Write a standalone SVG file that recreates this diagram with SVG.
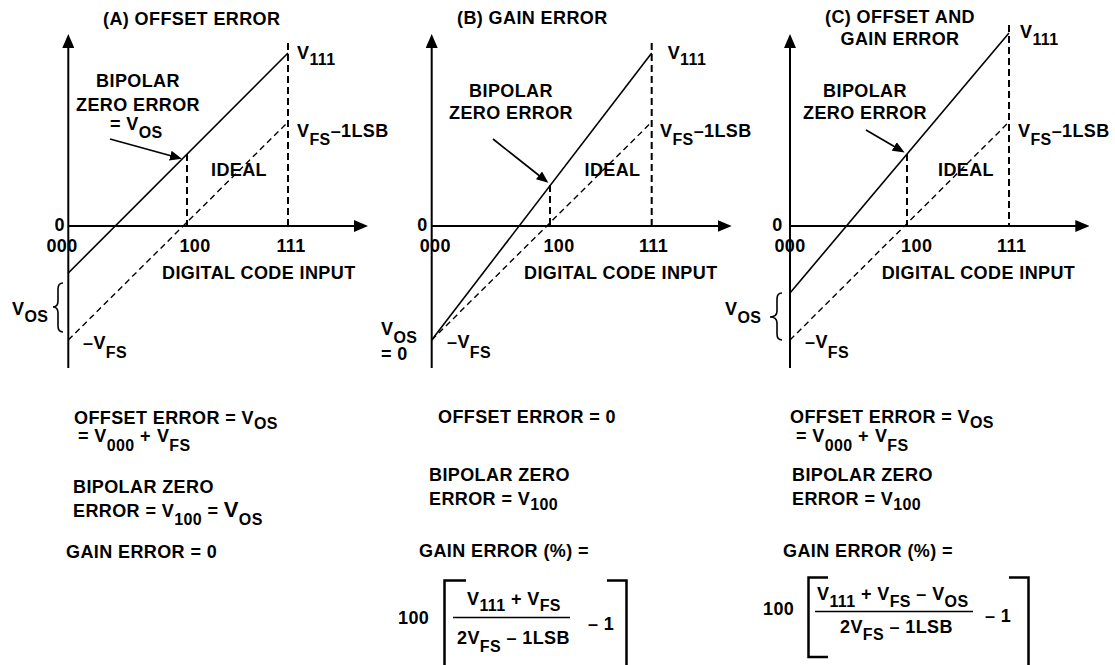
<svg xmlns="http://www.w3.org/2000/svg" width="1115" height="665" viewBox="0 0 1115 665">
<defs>
<style>
text{font-family:"Liberation Sans",Arial,Helvetica,sans-serif;font-weight:bold;font-size:18px;fill:#000;letter-spacing:0.4px}
.s{font-size:16px}
.big{font-size:22px}
.m{text-anchor:middle}
.e{text-anchor:end}
.axis{stroke:#000;stroke-width:2;fill:none}
.act{stroke:#000;stroke-width:1.6;fill:none}
.ideal{stroke:#000;stroke-width:1.4;stroke-dasharray:6 4;fill:none}
.vd{stroke:#000;stroke-width:2;stroke-dasharray:7 4;fill:none}
.br{stroke:#000;stroke-width:1.6;fill:none}
.brk{stroke:#000;stroke-width:2.5;fill:none}
.frac{stroke:#000;stroke-width:1.6}
.call{stroke:#000;stroke-width:1.6;fill:none}
</style>
<marker id="ax" markerUnits="userSpaceOnUse" markerWidth="14" markerHeight="12" refX="10" refY="6" orient="auto"><path d="M0,0L14,6L0,12z" fill="#000"/></marker>
<marker id="ca" markerUnits="userSpaceOnUse" markerWidth="12" markerHeight="10" refX="9" refY="5" orient="auto"><path d="M0,0L12,5L0,10z" fill="#000"/></marker>
</defs>
<rect width="1115" height="665" fill="#fff"/>

<!-- Panel A -->
<g id="panelA">
<text x="103" y="25">(A) OFFSET ERROR</text>
<g id="A-connectors">
<line class="axis" x1="68.3" y1="368" x2="68.3" y2="38" marker-end="url(#ax)"/>
<line class="axis" x1="68.3" y1="226" x2="364" y2="226" marker-end="url(#ax)"/>
<line class="act" x1="68.3" y1="273" x2="288" y2="53"/>
<line class="ideal" x1="68.3" y1="340" x2="288" y2="122"/>
<line class="vd" x1="288" y1="43" x2="288" y2="226"/>
<line class="vd" x1="187" y1="154" x2="187" y2="226"/>
<line class="call" x1="110" y1="139" x2="179" y2="158" marker-end="url(#ca)"/>
<path class="br" d="M63,283Q58,283 58,289L58,301Q58,307 53,307Q58,307 58,313L58,326Q58,332 63,332"/>
</g>
<text class="e" x="65" y="231">0</text>
<text class="m" x="62" y="252">000</text>
<text class="m" x="195" y="252">100</text>
<text class="m" x="291" y="252">111</text>
<text x="162" y="279">DIGITAL CODE INPUT</text>
<text class="m" x="138" y="87">BIPOLAR</text>
<text class="m" x="138" y="111">ZERO ERROR</text>
<text x="110" y="130">= V<tspan class="s" dy="8">OS</tspan></text>
<text class="m" x="239" y="176">IDEAL</text>
<text x="297" y="59">V<tspan class="s" dy="6">111</tspan></text>
<text x="297" y="137">V<tspan class="s" dy="8">FS</tspan><tspan dy="-8">–1LSB</tspan></text>
<text x="12" y="315">V<tspan class="s" dy="7">OS</tspan></text>
<text x="83" y="349">–V<tspan class="s" dy="9">FS</tspan></text>
<text x="74" y="424">OFFSET ERROR = V<tspan class="s" dy="5">OS</tspan></text>
<text x="78" y="442">= V<tspan class="s" dy="9">000</tspan><tspan dy="-9"> +</tspan><tspan dx="6">V</tspan><tspan class="s" dy="9">FS</tspan></text>
<text x="73" y="493">BIPOLAR ZERO</text>
<text x="73" y="517">ERROR = V<tspan class="s" dy="8">100</tspan><tspan dy="-8"> = </tspan><tspan class="big">V</tspan><tspan class="s" dy="8">OS</tspan></text>
<text x="66" y="558">GAIN ERROR = 0</text>
</g>

<!-- Panel B -->
<g id="panelB">
<text x="457" y="24">(B) GAIN ERROR</text>
<g id="B-connectors">
<line class="axis" x1="431.7" y1="368" x2="431.7" y2="38" marker-end="url(#ax)"/>
<line class="axis" x1="431.7" y1="226" x2="727.7" y2="226" marker-end="url(#ax)"/>
<line class="act" x1="431.7" y1="340" x2="651.7" y2="53"/>
<line class="ideal" x1="431.7" y1="340" x2="651.7" y2="122"/>
<line class="vd" x1="651.7" y1="43" x2="651.7" y2="226"/>
<line class="vd" x1="550" y1="185" x2="550" y2="226"/>
<line class="call" x1="493" y1="139" x2="546" y2="181" marker-end="url(#ca)"/>
</g>
<text class="e" x="427.7" y="231">0</text>
<text class="m" x="435.3" y="252">000</text>
<text class="m" x="559" y="252">100</text>
<text class="m" x="653.5" y="252">111</text>
<text x="524" y="279">DIGITAL CODE INPUT</text>
<text class="m" x="511" y="97">BIPOLAR</text>
<text class="m" x="511" y="119">ZERO ERROR</text>
<text class="m" x="612.5" y="176">IDEAL</text>
<text x="667.7" y="59">V<tspan class="s" dy="6">111</tspan></text>
<text x="660" y="137">V<tspan class="s" dy="8">FS</tspan><tspan dy="-8">–1LSB</tspan></text>
<text x="381" y="335">V<tspan class="s" dy="8">OS</tspan></text>
<text x="381" y="360">= 0</text>
<text x="447" y="348">–V<tspan class="s" dy="10">FS</tspan></text>
<text x="438" y="423">OFFSET ERROR = 0</text>
<text x="429" y="481">BIPOLAR ZERO</text>
<text x="429" y="505">ERROR = V<tspan class="s" dy="5">100</tspan></text>
<text x="419" y="557">GAIN ERROR (%) =</text>
<text x="398" y="624">100</text>
<path class="brk" d="M466,580.5H444.5V665"/>
<path class="brk" d="M607,580.5H626.5V665"/>
<text x="467" y="605">V<tspan class="s" dy="6">111</tspan><tspan dy="-6"> + V</tspan><tspan class="s" dy="6">FS</tspan></text>
<line class="frac" x1="453" y1="617.5" x2="570" y2="617.5"/>
<text x="457" y="644">2V<tspan class="s" dy="8">FS</tspan><tspan dy="-8"> – 1LSB</tspan></text>
<text x="588" y="630">– 1</text>
</g>

<!-- Panel C -->
<g id="panelC">
<text class="m" x="900" y="23">(C) OFFSET AND</text>
<text class="m" x="900" y="45">GAIN ERROR</text>
<g id="C-connectors">
<line class="axis" x1="790" y1="368" x2="790" y2="38" marker-end="url(#ax)"/>
<line class="axis" x1="790" y1="226" x2="1085.3" y2="226" marker-end="url(#ax)"/>
<line class="act" x1="790" y1="293" x2="1009" y2="33"/>
<line class="ideal" x1="790" y1="340" x2="1009" y2="122"/>
<line class="vd" x1="1009" y1="25" x2="1009" y2="226"/>
<line class="vd" x1="907" y1="154" x2="907" y2="226"/>
<line class="call" x1="866" y1="130" x2="902" y2="151" marker-end="url(#ca)"/>
<path class="br" d="M782,293Q777,293 777,299L777,311Q777,317 770,317Q777,317 777,323L777,334Q777,340 782,340"/>
</g>
<text class="e" x="782.7" y="231">0</text>
<text class="m" x="790" y="252">000</text>
<text class="m" x="916.7" y="252">100</text>
<text class="m" x="1011.7" y="252">111</text>
<text x="881.7" y="279">DIGITAL CODE INPUT</text>
<text class="m" x="865" y="97">BIPOLAR</text>
<text class="m" x="865" y="119">ZERO ERROR</text>
<text class="m" x="966" y="176">IDEAL</text>
<text x="1020" y="38">V<tspan class="s" dy="7">111</tspan></text>
<text x="1018" y="137">V<tspan class="s" dy="8">FS</tspan><tspan dy="-8">–1LSB</tspan></text>
<text x="725" y="315">V<tspan class="s" dy="8">OS</tspan></text>
<text x="805" y="348">–V<tspan class="s" dy="10">FS</tspan></text>
<text x="790" y="423">OFFSET ERROR = V<tspan class="s" dy="5">OS</tspan></text>
<text x="796" y="442">= V<tspan class="s" dy="9">000</tspan><tspan dy="-9"> +</tspan><tspan dx="6">V</tspan><tspan class="s" dy="9">FS</tspan></text>
<text x="792" y="481">BIPOLAR ZERO</text>
<text x="792" y="505">ERROR = V<tspan class="s" dy="5">100</tspan></text>
<text x="783" y="557">GAIN ERROR (%) =</text>
<text x="763" y="615">100</text>
<path class="brk" d="M828,577.5H808.5V657H828"/>
<path class="brk" d="M1009,577.5H1028.5V665"/>
<text x="817" y="600">V<tspan class="s" dy="7">111</tspan><tspan dy="-7"> + V</tspan><tspan class="s" dy="7">FS</tspan><tspan dy="-7"> – V</tspan><tspan class="s" dy="7">OS</tspan></text>
<line class="frac" x1="815" y1="611.5" x2="973" y2="611.5"/>
<text x="840" y="633">2V<tspan class="s" dy="7">FS</tspan><tspan dy="-7"> – 1LSB</tspan></text>
<text x="985" y="622">– 1</text>
</g>
</svg>
